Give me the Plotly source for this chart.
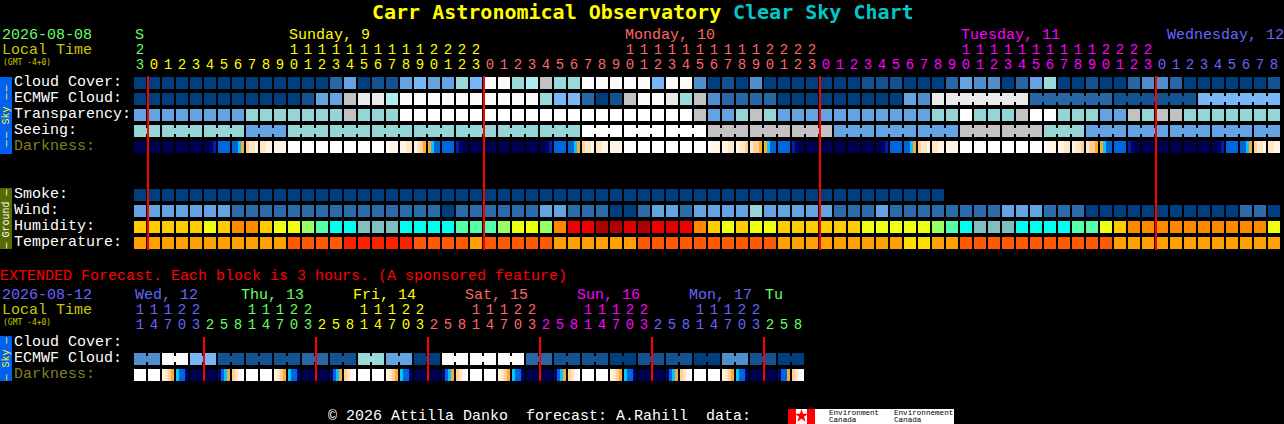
import plotly.graph_objects as go

FONT = "Liberation Mono"
BOLD_FONT = "DejaVu Sans Mono"
W, H = 1284, 424

# ---------- data ----------
cloud_cover = [0,0,0,0,0,0,0,0,0,0,0,0,0,0,20,40,0,10,10,40,50,
               40,40,60,50,100,100,60,70,80,60,60,100,100,100,100,100,50,100,100,30,0,10,0,30,0,0,0,0,0,0,0,
               10,10,10,0,0,0,20,40,30,30,0,20,40,60,0,0,10,0,0,20,30,30,20,0,0,0,0,0,0,10]
ecmwf_cloud = [0,0,0,0,0,0,0,0,0,0,0,0,10,40,40,80,90,90,70,100,100,
               100,100,100,100,100,100,100,100,60,50,50,20,0,10,80,100,100,90,60,80,30,20,20,20,20,0,0,0,0,0,0,
               0,0,0,40,30,90,90,90,90,90,90,90,20,20,20,20,20,20,10,10,10,10,10,10,50,50,50,50,50,50]
ecmwf_groups = [1]*58 + [6,6,6,6]
transparency = list("BBBBBBBB" "TTTTTTT" "G" "TTT" "WWWWWWWWWWWWWWWWWWWWW" "G" "BB" "T" "G" "T"
                    "BBBBBBBBBBB" "TT" "W" "TTT" "G" "WW" "TTT" "BB" "G" "T" "GG" "TTTTTTT")
seeing = list("TT" "TTTTTT" "BBB" "TTTTTTTTTTTTTTTTTTTTT" "WWWWWWWWW" "GGGGGGGGG" "BBBBBBBBB"
              "GGGGGG" "TTT" "BBBBBBBBBBBBBB")
seeing_groups = [2] + [3]*26 + [2]
darkness = ["NNNN","NNNN","NNNN","NNNN","NNNN","NNMA","BBBB","BBCO","YPPQ","PPQQ","QQQQ",
            "WWWW","WWWW","WWWW","WWWW","WWWW","WWWW","WWWW","WQQQ","QQPP","QPYO",
            "OCBB","BBBB","AMNN","NNNN","NNNN","NNNN","NNNN","NNNN","NNMA","BBBB","BBCO","YPPQ","PPQQ","QQQQ",
            "WWWW","WWWW","WWWW","WWWW","WWWW","WWWW","WQQQ","QQPP","QPPY","PYYO",
            "OCBB","BBBB","AMNN","NNNN","NNNN","NNNN","NNNN","NNNN","NNMA","BBBB","BBCO","YPPQ","PPQQ","QQQQ",
            "WWWW","WWWW","WWWW","WWWW","WWWW","WWWW","WQQQ","QQPP","QPPY","PYYO",
            "OCBB","BBBB","AMNN","NNNN","NNNN","NNNN","NNNN","NNNN","NNMA","BBBB","BBCO","YPPQ","PPQQ"]
smoke = [0,0,0,0,0,0,0,0,0,0,0,0,0,0,0,0,0,0,0,0,0,0,0,0,0,0,0,0,0,
         0,0,0,0,0,0,0,0,0,0,0,0,0,0,0,0,0,0,0,0,0,0,0,0,0,0,0,0,0]
wind = [2,2,2,2,2,2,2,1,1,1,1,1,1,1,1,1,1,1,1,1,1,1,0,1,1,1,1,1,1,2,2,1,1,1,0,0,1,2,2,1,
        2,2,2,2,3,2,2,2,2,2,1,1,1,2,1,1,1,1,1,1,1,1,2,2,2,1,1,1,
        0,0,0,0,0,0,0,0,0,0,0,1,1,0]
humidity = list("aaaaa" "y" "a" "oo" "a" "yy" "l" "m" "cc" "ggg" "cccc" "mmm" "l" "yy" "l" "o" "rr" "dd" "e" "d"
                "r" "e" "r" "o" "a" "y" "a" "yy" "aaaaaa" "yyyyy" "l" "m" "c" "ggg" "cccc" "mm" "y" "a"
                "oooooooooo" "y")
temperature = list("OOOOOOOOOOO" "DDDD" "RRRRR" "DDDD" "O" "DDDDD" "OOOOOO" "DDDDDDDDDD" "OOOOOOOOO" "YY" "OO"
                   "DDDDDDDDDDD" "OOOOOOOOOOOO")
hours_main = [23] + list(range(24))*3 + list(range(9))
midnights_main = [1, 25, 49, 73]
day_labels_main = ["Sunday, 9", "Monday, 10", "Tuesday, 11", "Wednesday, 12"]
day_left_px_main = [289, 625, 961, 1167]

ext_ecmwf = [30,30,100,100,50,50,10,10,10,10,10,10,20,20,10,10,60,60,40,40,0,0,100,100,100,100,100,100,
             20,20,10,10,10,10,0,0,10,10,10,10,0,0,30,30,10,10,0,0]
ext_darkness = ["WWWW","WWWW","QPYO","CBBM","NNNN","NNNN","MBCO","YPQW",
                "WWWW","WWWW","QPYO","CBBM","NNNN","NNNN","MBCO","YPQW",
                "WWWW","WWWW","QPYO","CBBM","NNNN","NNNN","MBCO","YPQW",
                "WWWW","WWWW","QPYO","CBBM","NNNN","NNNN","MBCO","YPQW",
                "WWWW","WWWW","QPYO","CBBM","NNNN","NNNN","MBCO","YPQW",
                "WWWW","WWWW","QPYO","CBBM","NNNN","NNNN","MBBO","YPQW"]
hours_ext = [11,14,17,20,23] + [2,5,8,11,14,17,20,23]*5 + [2,5,8]
midnights_ext = [5, 13, 21, 29, 37, 45]
day_labels_ext = ["Wed, 12", "Thu, 13", "Fri, 14", "Sat, 15", "Sun, 16", "Mon, 17", "Tu"]
day_left_px_ext = [135, 241, 353, 465, 577, 689, 765]

# ---------- palettes ----------
CLOUD = {0:"#003f7f",10:"#135393",20:"#2767a7",30:"#4f8fcf",40:"#63a3e3",50:"#77b7f7",60:"#9adada",
         70:"#aeeeee",80:"#c2c2c2",90:"#eaeaea",100:"#fbfbfb"}
QUAL = {"B":"#63a3e3","T":"#95d5d5","G":"#c2c2c2","W":"#ffffff"}
WINDC = {0:"#003f7f",1:"#2c6cac",2:"#63a3e3",3:"#95d5d5"}
HUM = {"a":"#ffcc00","y":"#eeff10","o":"#ff8800","l":"#99ff66","m":"#55ffaa","c":"#00ffee","g":"#80bfbf",
       "r":"#f00000","e":"#e00000","d":"#b00000"}
TEMP = {"O":"#ff9f00","D":"#ff5a00","R":"#ff2000","Y":"#ffdd00"}
DARK = {"N":"#000050","M":"#000078","A":"#0020a8","B":"#0066e0","C":"#00c8ff","O":"#ffa830",
        "Y":"#ffd090","P":"#ffe6c8","Q":"#fff4e6","W":"#ffffff"}
GREEN, YEL, PINK, MAG, BLU = "#66ff66", "#ffff00", "#ff6666", "#ff00ff", "#6666ff"
RED = "#ff0000"

# ---------- axis helpers: x axis = block index, y axis = row index ----------
def X(px): return (px - 140) / 14
def Y(py): return (py - 77) / 16

fig = go.Figure()
BW, BH = 12/14, 0.75

def row(values, r, pal, groups=None, start_x=0):
    xs = [start_x + i for i in range(len(values))]
    fig.add_bar(x=xs, y=[BH]*len(xs), base=[r]*len(xs), width=BW,
                marker=dict(color=[pal[v] for v in values], line_width=0), hoverinfo="skip", showlegend=False)
    if groups:
        lx, lc, i = [], [], 0
        for g in groups:
            for k in range(g-1):
                lx.append(i+k+0.5); lc.append(pal[values[i+k]])
            i += g
        fig.add_bar(x=lx, y=[0.375]*len(lx), base=[r+0.1875]*len(lx), width=2/14,
                    marker=dict(color=lc, line_width=0), hoverinfo="skip", showlegend=False)

def dark_row(values, r):
    xs, cs = [], []
    for i, s in enumerate(values):
        for k, ch in enumerate(s):
            xs.append(i + (k-1.5)*3/14); cs.append(DARK[ch])
    fig.add_bar(x=xs, y=[BH]*len(xs), base=[r]*len(xs), width=3/14,
                marker=dict(color=cs, line_width=0), hoverinfo="skip", showlegend=False)

row(cloud_cover, 0, CLOUD)
row(ecmwf_cloud, 1, CLOUD, ecmwf_groups)
row(transparency, 2, QUAL)
row(seeing, 3, QUAL, seeing_groups)
dark_row(darkness, 4)
row(smoke, 7, CLOUD)
row(wind, 8, WINDC)
row(humidity, 9, HUM)
row(temperature, 10, TEMP)
row(ext_ecmwf, Y(353), CLOUD, [2]*24)
dark_row(ext_darkness, Y(369))

# side bars and logo blocks
def vbar(px0, px1, py0, py1, color):
    fig.add_bar(x=[(X(px0)+X(px1))/2], y=[Y(py1)-Y(py0)], base=[Y(py0)], width=[X(px1)-X(px0)],
                marker=dict(color=color, line_width=0), hoverinfo="skip", showlegend=False)
vbar(0, 12, 77, 154, "#0060f0")
vbar(0, 12, 188, 249, "#556b00")
vbar(0, 12, 336, 381, "#0060f0")
vbar(788, 954, 409, 424, "#ffffff")
vbar(788, 796, 409, 424, RED)
vbar(807, 815, 409, 424, RED)

# red midnight lines
for m in midnights_main:
    fig.add_scatter(x=[m-3/7]*2, y=[0-1/16, Y(250)], mode="lines", line=dict(color=RED, width=2),
                    hoverinfo="skip", showlegend=False)
for m in midnights_ext:
    fig.add_scatter(x=[m-3/7]*2, y=[Y(337), Y(381)], mode="lines", line=dict(color=RED, width=2),
                    hoverinfo="skip", showlegend=False)

# maple leaf
fig.add_scatter(x=[X(801.5)], y=[Y(416)], mode="markers", marker=dict(symbol="star", size=10, color=RED),
                hoverinfo="skip", showlegend=False)

# hour labels
def main_col(i):
    return GREEN if i == 0 else YEL if i <= 24 else PINK if i <= 48 else MAG if i <= 72 else BLU
def ext_col(i):
    if i <= 4: return BLU
    return [GREEN, YEL, PINK, MAG, BLU, GREEN][(i-5)//8]

def hour_text(hours, colfn, py_ones, py_tens):
    xs = list(range(len(hours)))
    fig.add_scatter(x=xs, y=[Y(py_ones)]*len(xs), mode="text", text=[str(h % 10) for h in hours],
                    textfont=dict(family=FONT, size=14, color=[colfn(i) for i in xs]),
                    textposition="middle center", hoverinfo="skip", showlegend=False)
    tx = [i for i, h in zip(xs, hours) if h >= 10]
    fig.add_scatter(x=tx, y=[Y(py_tens)]*len(tx), mode="text", text=[str(hours[i]//10) for i in tx],
                    textfont=dict(family=FONT, size=14, color=[colfn(i) for i in tx]),
                    textposition="middle center", hoverinfo="skip", showlegend=False)
hour_text(hours_main, main_col, 65, 50)
hour_text(hours_ext, ext_col, 325, 310)

anns = []
def T(px, py, s, color, size=15, anchor="left", bold=False, angle=0, family=FONT):
    anns.append(dict(x=X(px), y=Y(py), xref="x", yref="y", text=("<b>%s</b>" % s) if bold else s,
                     showarrow=False, xanchor=anchor, yanchor="middle", textangle=angle,
                     font=dict(family=family, size=size, color=color), borderpad=0, borderwidth=0))

T(372, 12, "Carr Astronomical Observatory", YEL, 20, bold=True, family=BOLD_FONT)
T(733, 12, "Clear Sky Chart", "#00c8c8", 20, bold=True, family=BOLD_FONT)
T(2, 35, "2026-08-08", GREEN)
T(2, 50, "Local Time", "#c8c800")
T(3, 62, "(GMT -4+0)", "#c8c800", 8, family=BOLD_FONT)
T(135, 35, "S", GREEN)
for s, px, c in zip(day_labels_main, day_left_px_main, [YEL, PINK, MAG, BLU]):
    T(px, 35, s, c)
for s, py, c in [("Cloud Cover:", 82, "#fff"), ("ECMWF Cloud:", 98, "#fff"), ("Transparency:", 114, "#fff"),
                 ("Seeing:", 130, "#fff"), ("Darkness:", 146, "#808020"), ("Smoke:", 194, "#fff"),
                 ("Wind:", 210, "#fff"), ("Humidity:", 226, "#fff"), ("Temperature:", 242, "#fff"),
                 ("Cloud Cover:", 342, "#fff"), ("ECMWF Cloud:", 358, "#fff"), ("Darkness:", 374, "#808020")]:
    T(14, py, s, c)
T(0, 276, "EXTENDED Forecast. Each block is 3 hours. (A sponsored feature)", RED)
T(2, 295, "2026-08-12", BLU)
T(2, 310, "Local Time", "#c8c800")
T(3, 322, "(GMT -4+0)", "#c8c800", 8, family=BOLD_FONT)
for s, px, c in zip(day_labels_ext, day_left_px_ext, [BLU, GREEN, YEL, PINK, MAG, BLU, GREEN]):
    T(px, 295, s, c)
T(328, 416, "© 2026 Attilla Danko  forecast: A.Rahill  data:", "#ffffff")
# side-bar captions
for py, s in [(88.5, "—"), (96.5, "—"), (115.5, "Sky"), (135, "—"), (143.5, "—")]:
    T(6, py, s, YEL, 10, "center", angle=-90)
for py, s in [(192.5, "—"), (219.5, "Ground"), (245.5, "—")]:
    T(6, py, s, "#ffffff", 10, "center", angle=-90)
for py, s in [(340.5, "—"), (358.5, "Sky"), (377.5, "—")]:
    T(6, py, s, YEL, 10, "center", angle=-90)
T(829, 412.7, "Environment", "#000", 7.6)
T(829, 420, "Canada", "#000", 7.6)
T(894, 412.7, "Environnement", "#000", 7.6)
T(894, 420, "Canada", "#000", 7.6)

fig.update_layout(width=W, height=H, margin=dict(l=0, r=0, t=0, b=0), paper_bgcolor="#000", plot_bgcolor="#000",
                  barmode="overlay", bargap=0, annotations=anns, showlegend=False,
                  xaxis=dict(range=[X(0), X(W)], visible=False, fixedrange=True),
                  yaxis=dict(range=[Y(H), Y(0)], visible=False, fixedrange=True))
fig.write_html("out.html", config=dict(displayModeBar=False),
               post_script="document.body.style.margin='0';document.body.style.background='#000';document.body.style.overflow='hidden';")
